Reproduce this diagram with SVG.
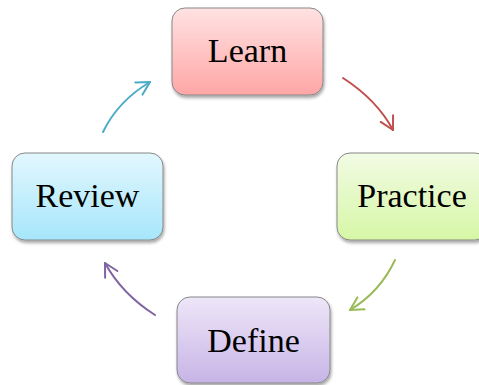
<svg xmlns="http://www.w3.org/2000/svg" width="479" height="385" viewBox="0 0 479 385">
  <defs>
    <linearGradient id="gLearn" x1="0" y1="0" x2="0" y2="1">
      <stop offset="0" stop-color="#ffe2e2"/>
      <stop offset="1" stop-color="#ffa6a6"/>
    </linearGradient>
    <linearGradient id="gPractice" x1="0" y1="0" x2="0" y2="1">
      <stop offset="0" stop-color="#f2fbe4"/>
      <stop offset="1" stop-color="#d6f7a6"/>
    </linearGradient>
    <linearGradient id="gReview" x1="0" y1="0" x2="0" y2="1">
      <stop offset="0" stop-color="#e2f7fe"/>
      <stop offset="1" stop-color="#a6e6fb"/>
    </linearGradient>
    <linearGradient id="gDefine" x1="0" y1="0" x2="0" y2="1">
      <stop offset="0" stop-color="#eee6f8"/>
      <stop offset="1" stop-color="#c7b4e6"/>
    </linearGradient>
    <filter id="shadow" x="-10%" y="-10%" width="125%" height="130%">
      <feDropShadow dx="1" dy="2.5" stdDeviation="1.5" flood-color="#000" flood-opacity="0.35"/>
    </filter>
    <marker id="arrowRed" markerUnits="userSpaceOnUse" markerWidth="20" markerHeight="20" refX="0" refY="0" viewBox="-14 -10 20 20" orient="auto">
      <path d="M-13,-7 L0,0 L-13,7" fill="none" stroke="#c0504d" stroke-width="2" stroke-linecap="round" stroke-linejoin="round"/>
    </marker>
    <marker id="arrowGreen" markerUnits="userSpaceOnUse" markerWidth="20" markerHeight="20" refX="0" refY="0" viewBox="-14 -10 20 20" orient="auto">
      <path d="M-13,-7 L0,0 L-13,7" fill="none" stroke="#9bbb59" stroke-width="2" stroke-linecap="round" stroke-linejoin="round"/>
    </marker>
    <marker id="arrowPurple" markerUnits="userSpaceOnUse" markerWidth="20" markerHeight="20" refX="0" refY="0" viewBox="-14 -10 20 20" orient="auto">
      <path d="M-13,-7 L0,0 L-13,7" fill="none" stroke="#8064a2" stroke-width="2" stroke-linecap="round" stroke-linejoin="round"/>
    </marker>
    <marker id="arrowBlue" markerUnits="userSpaceOnUse" markerWidth="20" markerHeight="20" refX="0" refY="0" viewBox="-14 -10 20 20" orient="auto">
      <path d="M-13,-7 L0,0 L-13,7" fill="none" stroke="#4bacc6" stroke-width="2" stroke-linecap="round" stroke-linejoin="round"/>
    </marker>
  </defs>
  <style>
    .box { stroke: #888888; stroke-width: 1; filter: url(#shadow); }
    .label { font-family: "Liberation Serif", "Times New Roman", serif; font-size: 34px; fill: #000; text-anchor: middle; }
    .conn { fill: none; stroke-width: 2; stroke-linecap: round; }
  </style>

  <rect width="479" height="385" fill="#ffffff"/>

  <g id="connectors">
    <path class="conn" d="M343,78 Q377,100 393,130" stroke="#c0504d" marker-end="url(#arrowRed)"/>
    <path class="conn" d="M395,260 Q380,292 350,310" stroke="#9bbb59" marker-end="url(#arrowGreen)"/>
    <path class="conn" d="M155,315 Q122,294 105,263" stroke="#8064a2" marker-end="url(#arrowPurple)"/>
    <path class="conn" d="M103,132 Q118,101 150,82" stroke="#4bacc6" marker-end="url(#arrowBlue)"/>
  </g>

  <g id="learn">
    <rect class="box" x="172" y="8" width="151" height="87" rx="13" fill="url(#gLearn)"/>
    <text class="label" x="247.5" y="62">Learn</text>
  </g>

  <g id="practice">
    <rect class="box" x="337" y="153" width="151" height="87" rx="13" fill="url(#gPractice)"/>
    <text class="label" x="412" y="207">Practice</text>
  </g>

  <g id="define">
    <rect class="box" x="177" y="297" width="153" height="86" rx="13" fill="url(#gDefine)"/>
    <text class="label" x="253.5" y="352">Define</text>
  </g>

  <g id="review">
    <rect class="box" x="12" y="153" width="151" height="87" rx="13" fill="url(#gReview)"/>
    <text class="label" x="87.5" y="207">Review</text>
  </g>
</svg>
